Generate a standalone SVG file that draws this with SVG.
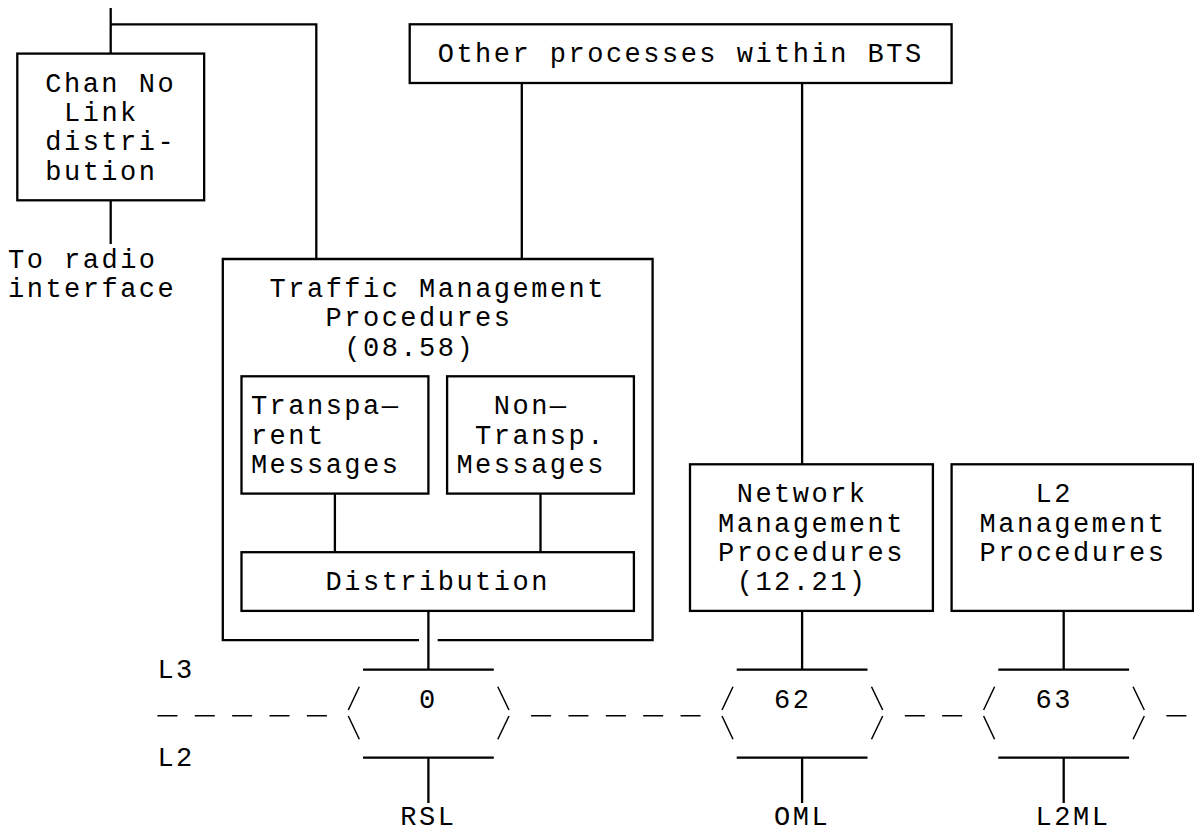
<svg xmlns="http://www.w3.org/2000/svg" width="1194" height="834" viewBox="0 0 1194 834">
<style>
  .bg{fill:#fff}
  .box{fill:none;stroke:#000;stroke-width:2.3}
  .ln{fill:none;stroke:#000;stroke-width:2.3}
  .thin{fill:none;stroke:#000;stroke-width:1.5}
  .dash{fill:none;stroke:#000;stroke-width:1.6;stroke-dasharray:20 17.37}
  text{font-family:"Liberation Mono","DejaVu Sans Mono",monospace;font-size:27px;letter-spacing:2.485px;fill:#000}
</style>
<rect class="bg" x="0" y="0" width="1194" height="834"/>

<g id="connectors">
  <path class="ln" d="M110.7,8 V53.6 M110.7,24.3 H316.3 V259"/>
  <path class="ln" d="M110.7,200.3 V244"/>
  <path class="ln" d="M521.8,83 V259"/>
  <path class="ln" d="M802.1,83 V464.3"/>
  <path class="ln" d="M334.9,493.6 V552.2 M540.5,493.6 V552.2"/>
  <path class="ln" d="M428.4,610.9 V669.6 M428.4,757.6 V803"/>
  <path class="ln" d="M802.1,610.9 V669.6 M802.1,757.6 V803"/>
  <path class="ln" d="M1063.7,610.9 V669.6 M1063.7,757.6 V803"/>
  <path class="dash" d="M157.4,715.7 H327.3 M531.1,715.7 H701 M904.8,715.7 H962.2 M1166.4,715.7 H1186.4"/>
</g>

<g id="chan-no-link">
  <rect class="box" x="17.3" y="53.6" width="186.85" height="146.7"/>
  <text x="45.3" y="91.7">Chan No</text>
  <text x="64" y="121">Link</text>
  <text x="45.3" y="150.3">distri-</text>
  <text x="45.3" y="179.7">bution</text>
</g>

<g id="radio-label">
  <text x="8" y="267.6">To radio</text>
  <text x="8" y="297">interface</text>
</g>

<g id="other-processes">
  <rect class="box" x="409.7" y="24.3" width="541.9" height="58.7"/>
  <text x="437.7" y="62.3">Other processes within BTS</text>
</g>

<g id="traffic-management">
  <path class="box" d="M419,640.2 H222.8 V259 H652.6 V640.2 H437.7"/>
  <text x="269.6" y="297">Traffic Management</text>
  <text x="325.6" y="326.3">Procedures</text>
  <text x="344.3" y="355.6">(08.58)</text>
</g>

<g id="transparent">
  <rect class="box" x="241.5" y="376.3" width="186.9" height="117.3"/>
  <text x="250.9" y="414.3">Transpa—</text>
  <text x="250.9" y="443.6">rent</text>
  <text x="250.9" y="473">Messages</text>
</g>

<g id="non-transparent">
  <rect class="box" x="447.1" y="376.3" width="186.8" height="117.3"/>
  <text x="493.8" y="414.3">Non—</text>
  <text x="475.1" y="443.6">Transp.</text>
  <text x="456.4" y="473">Messages</text>
</g>

<g id="distribution">
  <rect class="box" x="241.5" y="552.2" width="392.4" height="58.7"/>
  <text x="325.6" y="590.3">Distribution</text>
</g>

<g id="network-management">
  <rect class="box" x="690" y="464.3" width="242.9" height="146.6"/>
  <text x="736.7" y="502.3">Network</text>
  <text x="718" y="531.6">Management</text>
  <text x="718" y="561">Procedures</text>
  <text x="736.7" y="590.3">(12.21)</text>
</g>

<g id="l2-management">
  <rect class="box" x="951.6" y="464.3" width="241.4" height="146.6"/>
  <text x="1035.6" y="502.3">L2</text>
  <text x="979.6" y="531.6">Management</text>
  <text x="979.6" y="561">Procedures</text>
</g>

<g id="layer-labels">
  <text x="157.4" y="678.3">L3</text>
  <text x="157.4" y="766.3">L2</text>
</g>

<g id="channel-0">
  <path class="ln" d="M363,669.6 H493.8 M363,757.6 H493.8"/>
  <path class="thin" d="M359.3,686.7 L348.3,710 M348.3,716 L359.3,739.3 M497.8,686.7 L509,710 M509,716 L497.8,739.3"/>
  <text x="419" y="707.6">0</text>
  <text x="400.3" y="824.9">RSL</text>
</g>

<g id="channel-62">
  <path class="ln" d="M736.7,669.6 H867.5 M736.7,757.6 H867.5"/>
  <path class="thin" d="M733,686.7 L722,710 M722,716 L733,739.3 M871.5,686.7 L882.7,710 M882.7,716 L871.5,739.3"/>
  <text x="774" y="707.6">62</text>
  <text x="774" y="824.9">OML</text>
</g>

<g id="channel-63">
  <path class="ln" d="M998.3,669.6 H1129.1 M998.3,757.6 H1129.1"/>
  <path class="thin" d="M994.6,686.7 L983.6,710 M983.6,716 L994.6,739.3 M1133.1,686.7 L1144.3,710 M1144.3,716 L1133.1,739.3"/>
  <text x="1035.6" y="707.6">63</text>
  <text x="1035.6" y="824.9">L2ML</text>
</g>
</svg>
